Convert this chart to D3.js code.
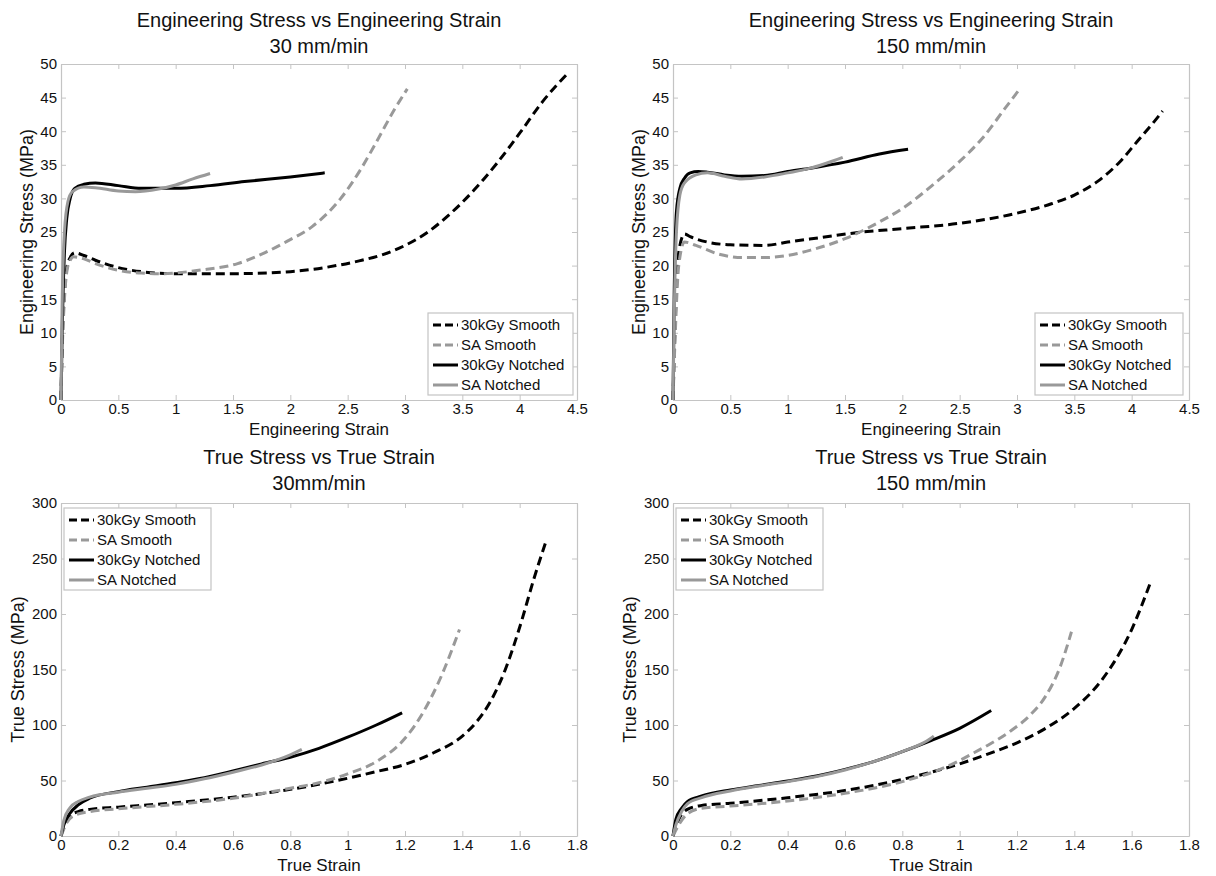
<!DOCTYPE html>
<html>
<head>
<meta charset="utf-8">
<script src="https://cdn.jsdelivr.net/npm/d3@7"></script>
<style>
  html, body { margin: 0; padding: 0; background: #fff; }
  svg { display: block; font-family: "Liberation Sans", Arial, sans-serif; }
</style>
</head>
<body>
<svg id="fig" width="1216" height="876"></svg>
<script>
// ---- Series names and tick labels ----
const seriesNames = ["30kGy Smooth", "SA Smooth", "30kGy Notched", "SA Notched"];
const engStrainTicks = [0, 0.5, 1, 1.5, 2, 2.5, 3, 3.5, 4, 4.5];
const engStressTicks = [0, 5, 10, 15, 20, 25, 30, 35, 40, 45, 50];
const trueStrainTicks = [0, 0.2, 0.4, 0.6, 0.8, 1, 1.2, 1.4, 1.6, 1.8];
const trueStressTicks = [0, 50, 100, 150, 200, 250, 300];

// ---- Engineering stress-strain, 30 mm/min ----
const eng30_kGySmooth = [[0,0],[0.01,8],[0.03,16],[0.05,19.5],[0.08,21.2],[0.12,21.9],[0.2,21.5],[0.3,20.8],[0.5,19.7],[0.7,19.1],[1.0,18.8],[1.5,18.8],[2.0,19.1],[2.4,20],[2.6,20.7],[2.8,21.6],[3.0,23],[3.2,25],[3.4,27.8],[3.6,31.2],[3.8,35.2],[4.0,39.7],[4.2,44.4],[4.43,48.8]];
const eng30_saSmooth = [[0,0],[0.01,7],[0.03,15],[0.05,19],[0.08,20.8],[0.11,21.3],[0.2,21],[0.3,20.3],[0.5,19.3],[0.7,18.9],[0.9,18.8],[1.0,18.9],[1.2,19.3],[1.54,20.3],[1.75,21.7],[1.97,23.6],[2.19,25.8],[2.44,30],[2.62,34.5],[2.77,39],[2.9,43],[3.02,46.3]];
const eng30_kGyNotched = [[0,0],[0.01,10],[0.03,22],[0.05,27],[0.08,30],[0.12,31.5],[0.2,32.1],[0.3,32.3],[0.5,31.9],[0.7,31.5],[1.0,31.5],[1.3,31.9],[1.6,32.5],[2.0,33.2],[2.3,33.8]];
const eng30_saNotched = [[0,0],[0.01,14],[0.03,25],[0.06,29.5],[0.1,31],[0.2,31.7],[0.3,31.6],[0.5,31.1],[0.65,31.0],[0.85,31.4],[1.0,32],[1.15,32.9],[1.3,33.7]];

// ---- Engineering stress-strain, 150 mm/min ----
const eng150_kGySmooth = [[0,0],[0.02,12],[0.05,22],[0.1,24.7],[0.15,24.3],[0.3,23.5],[0.5,23.1],[0.8,23.0],[1.0,23.5],[1.3,24.2],[1.6,24.9],[2.0,25.5],[2.5,26.3],[3.0,27.8],[3.3,29.2],[3.5,30.5],[3.7,32.5],[3.9,35.5],[4.05,38.5],[4.2,41.5],[4.27,43]];
const eng150_saSmooth = [[0,0],[0.02,10],[0.05,20],[0.1,23.5],[0.2,23],[0.4,21.7],[0.6,21.2],[0.8,21.2],[1.0,21.5],[1.2,22.3],[1.5,24],[1.8,26.5],[2.0,28.5],[2.3,32.5],[2.5,35.5],[2.7,39],[2.9,43.5],[3.02,46.2]];
const eng150_kGyNotched = [[0,0],[0.01,15],[0.03,28],[0.06,31.5],[0.1,33],[0.15,33.8],[0.22,34],[0.3,33.9],[0.45,33.5],[0.6,33.3],[0.8,33.4],[1.0,34],[1.2,34.5],[1.5,35.4],[1.8,36.6],[2.05,37.3]];
const eng150_saNotched = [[0,0],[0.01,12],[0.03,25],[0.06,30.5],[0.1,32.3],[0.2,33.5],[0.3,33.8],[0.45,33.3],[0.6,32.9],[0.8,33.2],[1.0,33.8],[1.2,34.5],[1.4,35.6],[1.48,36.1]];

// ---- True stress-strain, 30 mm/min ----
const true30_kGySmooth = [[0,0],[0.01,8],[0.03,18],[0.06,22],[0.1,24],[0.2,26],[0.4,30],[0.6,35],[0.8,42],[1.0,52],[1.1,58],[1.2,64.5],[1.3,75],[1.4,90],[1.45,103],[1.5,122],[1.55,150],[1.6,188],[1.65,232],[1.69,264]];
const true30_saSmooth = [[0,0],[0.02,12],[0.05,19],[0.1,22],[0.2,24.5],[0.4,28.5],[0.6,34],[0.8,43],[0.9,48],[1.0,56],[1.1,67],[1.2,88],[1.26,110],[1.33,146],[1.39,186]];
const true30_kGyNotched = [[0,0],[0.01,10],[0.03,20],[0.06,28],[0.1,34],[0.2,40],[0.3,44],[0.4,48],[0.5,52.5],[0.6,58.5],[0.7,65],[0.8,71],[0.9,79],[1.0,89],[1.1,100],[1.19,111]];
const true30_saNotched = [[0,0],[0.01,14],[0.03,25],[0.06,31],[0.1,35],[0.2,39.5],[0.3,43],[0.4,46.5],[0.5,51.5],[0.6,57.5],[0.7,64],[0.8,73],[0.84,78]];

// ---- True stress-strain, 150 mm/min ----
const true150_kGySmooth = [[0,0],[0.02,15],[0.05,24],[0.1,27.5],[0.2,29.5],[0.4,34.5],[0.6,41],[0.8,51],[1.0,65],[1.1,74],[1.2,84],[1.3,97],[1.4,115],[1.5,142],[1.6,186],[1.665,228]];
const true150_saSmooth = [[0,0],[0.02,10],[0.05,20],[0.1,25],[0.2,27],[0.4,31.5],[0.6,38.5],[0.8,49],[0.95,62],[1.0,68],[1.05,75],[1.1,82],[1.18,95],[1.25,110],[1.3,126],[1.35,152],[1.39,184]];
const true150_kGyNotched = [[0,0],[0.01,15],[0.03,25],[0.05,31],[0.1,36],[0.2,41.5],[0.3,45.5],[0.4,49.5],[0.5,54],[0.6,60],[0.7,67],[0.8,76],[0.9,86],[1.0,97],[1.11,113]];
const true150_saNotched = [[0,0],[0.01,10],[0.03,22],[0.05,29],[0.1,34.5],[0.2,40.5],[0.3,45],[0.4,49],[0.5,53.5],[0.6,59.5],[0.7,67],[0.8,76],[0.9,88],[0.91,90]];

// ---- Line styles per series ----
const styles = [
  { color: "#000000", dash: "9,5" },
  { color: "#999999", dash: "9,5" },
  { color: "#000000", dash: null },
  { color: "#999999", dash: null }
];

const svg = d3.select("#fig");
const fmt = d3.format("~g");

function panel(cfg) {
  const g = svg.append("g");
  const x = d3.scaleLinear().domain(cfg.xDomain).range([cfg.left, cfg.right]);
  const y = d3.scaleLinear().domain(cfg.yDomain).range([cfg.bottom, cfg.top]);
  const tickLen = 5;
  const axisColor = "#c4c4c4";

  // two-line title
  cfg.title.forEach((t, i) => {
    g.append("text")
      .attr("x", (cfg.left + cfg.right) / 2)
      .attr("y", cfg.titleY + i * 26)
      .attr("text-anchor", "middle")
      .attr("font-size", 20)
      .attr("fill", "#111")
      .text(t);
  });

  // boxed axes with inward ticks on all four sides
  const xb = g.append("g").attr("transform", `translate(0,${cfg.bottom})`)
    .call(d3.axisBottom(x).tickValues(cfg.xTicks).tickSizeInner(-tickLen).tickSizeOuter(0).tickPadding(3).tickFormat(fmt));
  const xt = g.append("g").attr("transform", `translate(0,${cfg.top})`)
    .call(d3.axisTop(x).tickValues(cfg.xTicks).tickSizeInner(-tickLen).tickSizeOuter(0).tickFormat(""));
  const yl = g.append("g").attr("transform", `translate(${cfg.left},0)`)
    .call(d3.axisLeft(y).tickValues(cfg.yTicks).tickSizeInner(-tickLen).tickSizeOuter(0).tickPadding(4).tickFormat(fmt));
  const yr = g.append("g").attr("transform", `translate(${cfg.right},0)`)
    .call(d3.axisRight(y).tickValues(cfg.yTicks).tickSizeInner(-tickLen).tickSizeOuter(0).tickFormat(""));
  [xb, xt, yl, yr].forEach(a => {
    a.select(".domain").attr("stroke", axisColor).attr("stroke-width", 1.2);
    a.selectAll(".tick line").attr("stroke", axisColor).attr("stroke-width", 1);
    a.selectAll(".tick text").attr("font-size", 15).attr("fill", "#111")
      .attr("font-family", "Liberation Sans, Arial, sans-serif");
  });

  // axis labels
  g.append("text")
    .attr("x", (cfg.left + cfg.right) / 2)
    .attr("y", cfg.bottom + 35)
    .attr("text-anchor", "middle")
    .attr("font-size", 17)
    .attr("fill", "#111")
    .text(cfg.xLabel);
  g.append("text")
    .attr("transform", `translate(${cfg.yLabelX},${(cfg.top + cfg.bottom) / 2}) rotate(-90)`)
    .attr("text-anchor", "middle")
    .attr("font-size", 18)
    .attr("fill", "#111")
    .text(cfg.yLabel);

  // curves
  const line = d3.line().x(d => x(d[0])).y(d => y(d[1])).curve(d3.curveMonotoneX);
  cfg.series.forEach((s, i) => {
    g.append("path")
      .datum(s)
      .attr("d", line)
      .attr("fill", "none")
      .attr("stroke", styles[i].color)
      .attr("stroke-width", 3)
      .attr("stroke-dasharray", styles[i].dash)
      .attr("stroke-linejoin", "round");
  });

  // legend
  const lg = g.append("g").attr("transform", `translate(${cfg.legend[0]},${cfg.legend[1]})`);
  lg.append("rect").attr("width", cfg.legendW).attr("height", 82)
    .attr("fill", "#fff").attr("stroke", "#c4c4c4").attr("stroke-width", 1.2);
  seriesNames.forEach((n, i) => {
    const yy = 12 + i * 20;
    lg.append("line").attr("x1", 5).attr("x2", 30).attr("y1", yy).attr("y2", yy)
      .attr("stroke", styles[i].color).attr("stroke-width", 3)
      .attr("stroke-dasharray", styles[i].dash ? "8,4" : null);
    lg.append("text").attr("x", 33).attr("y", yy).attr("dy", "0.35em")
      .attr("font-size", 15).attr("fill", "#111").text(n);
  });
}

panel({
  left: 61, right: 577, top: 64, bottom: 400,
  xDomain: [0, 4.5], yDomain: [0, 50], xTicks: engStrainTicks, yTicks: engStressTicks,
  title: ["Engineering Stress vs Engineering Strain", "30 mm/min"], titleY: 27,
  xLabel: "Engineering Strain", yLabel: "Engineering Stress (MPa)", yLabelX: 33,
  legend: [428, 313], legendW: 145,
  series: [eng30_kGySmooth, eng30_saSmooth, eng30_kGyNotched, eng30_saNotched]
});
panel({
  left: 673, right: 1189, top: 64, bottom: 400,
  xDomain: [0, 4.5], yDomain: [0, 50], xTicks: engStrainTicks, yTicks: engStressTicks,
  title: ["Engineering Stress vs Engineering Strain", "150 mm/min"], titleY: 27,
  xLabel: "Engineering Strain", yLabel: "Engineering Stress (MPa)", yLabelX: 645,
  legend: [1035, 313], legendW: 148,
  series: [eng150_kGySmooth, eng150_saSmooth, eng150_kGyNotched, eng150_saNotched]
});
panel({
  left: 61, right: 577, top: 503, bottom: 836,
  xDomain: [0, 1.8], yDomain: [0, 300], xTicks: trueStrainTicks, yTicks: trueStressTicks,
  title: ["True Stress vs True Strain", "30mm/min"], titleY: 464,
  xLabel: "True Strain", yLabel: "True Stress (MPa)", yLabelX: 24,
  legend: [64, 508], legendW: 147,
  series: [true30_kGySmooth, true30_saSmooth, true30_kGyNotched, true30_saNotched]
});
panel({
  left: 673, right: 1189, top: 503, bottom: 836,
  xDomain: [0, 1.8], yDomain: [0, 300], xTicks: trueStrainTicks, yTicks: trueStressTicks,
  title: ["True Stress vs True Strain", "150 mm/min"], titleY: 464,
  xLabel: "True Strain", yLabel: "True Stress (MPa)", yLabelX: 636,
  legend: [676, 508], legendW: 147,
  series: [true150_kGySmooth, true150_saSmooth, true150_kGyNotched, true150_saNotched]
});
</script>
</body>
</html>
